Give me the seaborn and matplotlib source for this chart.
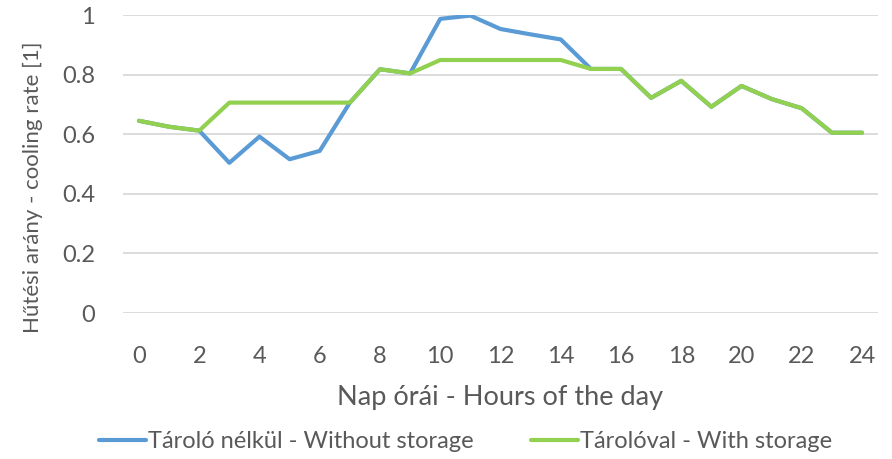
import matplotlib
matplotlib.use("Agg")
import matplotlib.pyplot as plt
import seaborn as sns
import pandas as pd
from matplotlib.lines import Line2D

hours = list(range(25))
without_storage = [0.645, 0.625, 0.612, 0.504, 0.592, 0.516, 0.544, 0.706, 0.818, 0.804,
                   0.987, 0.998, 0.953, 0.935, 0.918, 0.819, 0.819, 0.722, 0.779, 0.692,
                   0.762, 0.718, 0.687, 0.605, 0.605]
with_storage = [0.645, 0.625, 0.612, 0.706, 0.706, 0.706, 0.706, 0.706, 0.818, 0.804,
                0.849, 0.849, 0.849, 0.849, 0.849, 0.819, 0.819, 0.722, 0.779, 0.692,
                0.762, 0.718, 0.687, 0.605, 0.605]
series_names = ["Tároló nélkül - Without storage", "Tárolóval - With storage"]
x_ticks = [0, 2, 4, 6, 8, 10, 12, 14, 16, 18, 20, 22, 24]
y_ticks = [0, 0.2, 0.4, 0.6, 0.8, 1]
y_tick_labels = ["0", "0.2", "0.4", "0.6", "0.8", "1"]
x_label = "Nap órái - Hours of the day"
y_label = "Hűtési arány - cooling rate [1]"

df = pd.concat([
    pd.DataFrame({"hour": hours, "value": without_storage, "series": series_names[0]}),
    pd.DataFrame({"hour": hours, "value": with_storage, "series": series_names[1]}),
])

sns.set_style("white")
plt.rcParams["font.family"] = ["Lato", "DejaVu Sans"]

fig = plt.figure(figsize=(8.92, 4.59), dpi=100)
ax = fig.add_axes([123 / 892, 1 - 313 / 459, (878 - 123) / 892, (313 - 15) / 459])

palette = {series_names[0]: "#5B9BD5", series_names[1]: "#92D050"}
sns.lineplot(data=df, x="hour", y="value", hue="series", palette=palette,
             linewidth=3, ax=ax, legend=False, sort=False)

ax.set_xlim(-0.53, 24.53)
ax.set_ylim(0, 1)
ax.set_xticks(x_ticks)
ax.set_yticks(y_ticks)
ax.set_yticklabels(y_tick_labels)
ax.grid(axis="y", color="#D9D9D9", linewidth=1.3)
ax.set_axisbelow(True)
for s in ax.spines.values():
    s.set_visible(False)
ax.tick_params(axis="both", length=0, labelsize=17, colors="#595959")
ax.tick_params(axis="y", pad=20)
ax.tick_params(axis="x", pad=24)
ax.set_xlabel(x_label, fontsize=19.5, color="#595959")
ax.xaxis.set_label_coords(0.5, -(397 - 313) / 298, transform=ax.transAxes)
ax.xaxis.label.set_va("center")
ax.set_ylabel(y_label, fontsize=16, color="#595959")
ax.yaxis.set_label_coords((33 - 123) / 755, (313 - 187) / 298, transform=ax.transAxes)
ax.yaxis.label.set_va("center")

handles = [Line2D([], [], color=palette[n], linewidth=3) for n in series_names]
fig.legend(handles, series_names, loc="center", bbox_to_anchor=(0.522, 1 - 442 / 459),
           ncol=2, frameon=False, fontsize=17, labelcolor="#595959",
           handlelength=2.0, handletextpad=0.1, columnspacing=2.4)

fig.savefig("out.png", dpi=100)
